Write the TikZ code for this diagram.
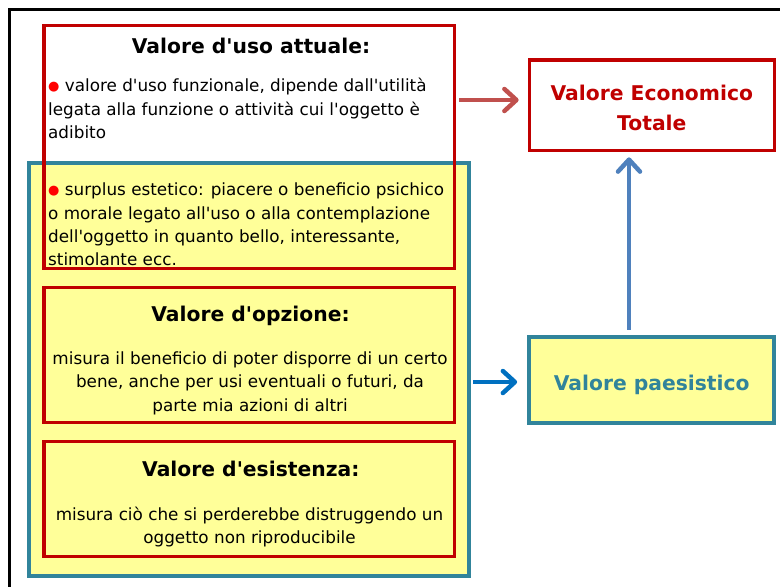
\documentclass[tikz,border=0pt]{standalone}
\usepackage{fontspec}
\setmainfont{DejaVu Sans}[Ligatures=TeXOff]
\usetikzlibrary{arrows.meta}
\definecolor{boxred}{HTML}{C00000}
\definecolor{boxteal}{HTML}{31849B}
\definecolor{boxyellow}{HTML}{FFFF99}
\definecolor{arrred}{HTML}{C0504D}
\definecolor{arrblue}{HTML}{4F81BD}
\definecolor{arrblue2}{HTML}{0070C0}
\definecolor{dotred}{HTML}{FF0000}
\newcommand\firstline[1]{\rule{0pt}{#1}}
\newcommand\reddot{\raisebox{1.8pt}{\fontsize{13}{13}\selectfont\color{dotred}●}}
\tikzset{
  redbox/.style={draw=boxred, line width=3.3pt, inner sep=0pt},
  tealbox/.style={draw=boxteal, line width=4.3pt, fill=boxyellow, inner sep=0pt},
  titletext/.style={font=\bfseries\fontsize{20.3}{24}\selectfont, inner sep=0pt},
  bodytext/.style={font=\fontsize{16.8}{23.3}\selectfont, inner sep=0pt},
  barb/.style={line width=4.5pt, -{Straight Barb[length=12pt,width=22pt,round]}},
}
\begin{document}
\begin{tikzpicture}[x=1pt,y=-1pt]
\useasboundingbox (0,0) rectangle (780,587);
% outer frame
\draw[line width=2.8pt] (9.7,590) -- (9.7,9.7) -- (790,9.7);
% boxes
\node[redbox, draw=none, fill=white, minimum width=410.7pt, minimum height=243pt] (usofill) at (249.35,147.2) {};
\node[tealbox, minimum width=440pt, minimum height=413.3pt] (paesgroup) at (249.3,369.35) {};
\node[redbox, minimum width=410.7pt, minimum height=243pt] (uso) at (249.35,147.2) {};
\node[redbox, minimum width=410.7pt, minimum height=135.4pt] (opz) at (249.35,355) {};
\node[redbox, minimum width=410.7pt, minimum height=115pt] (esi) at (249.35,499.2) {};
\node[redbox, fill=white, minimum width=245pt, minimum height=90.7pt] (vet) at (651.8,105.35) {};
\node[tealbox, minimum width=245pt, minimum height=86.6pt] (paes) at (651.8,380) {};
% texts
\node[titletext, anchor=base] (usotitle) at (251,53.3) {Valore d'uso attuale:};
\node[bodytext, anchor=north west, align=left] (usobody) at (48,75.7)
  {\firstline{16pt}\reddot\ valore d'uso funzionale, dipende dall'utilità\\legata alla funzione o attività cui l'oggetto è\\adibito};
\node[bodytext, anchor=north west, align=left] (surplus) at (48,179.7)
  {\firstline{16pt}\reddot\ surplus estetico: piacere o beneficio psichico\\o morale legato all'uso o alla contemplazione\\dell'oggetto in quanto bello, interessante,\\stimolante ecc.};
\node[titletext, anchor=base] (opztitle) at (250.5,321.7) {Valore d'opzione:};
\node[bodytext, anchor=north, align=center] (opzbody) at (250,348.3)
  {\firstline{16pt}misura il beneficio di poter disporre di un certo\\bene, anche per usi eventuali o futuri, da\\parte mia azioni di altri};
\node[titletext, anchor=base] (esititle) at (250.8,476) {Valore d'esistenza:};
\node[bodytext, anchor=north, align=center] (esibody) at (249.5,504)
  {\firstline{16pt}misura ciò che si perderebbe distruggendo un\\oggetto non riproducibile};
\node[titletext, anchor=north, align=center, text=boxred, font=\bfseries\fontsize{20.3}{30}\selectfont] (vettext) at (651.8,80)
  {\firstline{20pt}Valore Economico\\Totale};
\node[titletext, anchor=base, text=boxteal] (paestext) at (651.7,390) {Valore paesistico};
% connectors
\coordinate (redstart) at (459,100);
\coordinate (bluestart) at (473,382);
\coordinate (upx) at (629,0);
\draw[barb, arrred, shorten >=9pt] (redstart) -- (vet.west |- redstart);
\draw[barb, arrblue2, shorten >=10pt] (bluestart) -- (paes.west |- bluestart);
\draw[barb, arrblue, shorten <=5pt, shorten >=5pt] (paes.north -| upx) -- (vet.south -| upx);
\end{tikzpicture}
\end{document}
